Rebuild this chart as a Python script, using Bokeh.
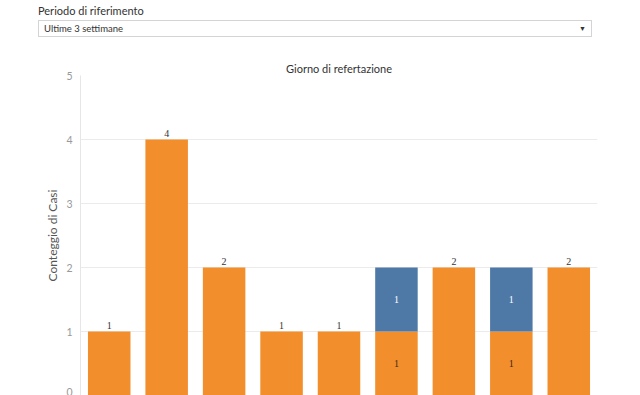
from bokeh.plotting import figure
from bokeh.models import Div, Range1d, ColumnDataSource, LabelSet
from bokeh.layouts import column
from bokeh.embed import file_html
from bokeh.resources import INLINE

# ---- data ----
giorni = ["G1", "G2", "G3", "G4", "G5", "G6", "G7", "G8", "G9"]
casi_arancio = [1, 4, 2, 1, 1, 1, 2, 1, 2]
casi_blu = [0, 0, 0, 0, 0, 1, 0, 1, 0]
y_ticks = [0, 1, 2, 3, 4, 5]

ORANGE = "#F28E2B"
BLUE = "#4E79A7"
FONT = "Lato"

# ---- dropdown header ----
header_html = f"""
<div style="position:relative;width:640px;height:58px;font-family:'{FONT}',sans-serif;">
  <div style="position:absolute;left:38px;top:4px;font-size:11px;line-height:14px;color:#333;white-space:nowrap;">Periodo di riferimento</div>
  <div style="position:absolute;left:38px;top:20px;width:554px;height:17px;box-sizing:border-box;border:1px solid #d4d4d4;background:#fff;">
    <span style="position:absolute;left:5px;top:1px;font-size:9.5px;line-height:13px;color:#333;white-space:nowrap;">Ultime 3 settimane</span>
    <span style="position:absolute;right:5px;top:2px;font-size:7px;line-height:10px;color:#333;">&#9660;</span>
  </div>
</div>
"""
header = Div(text=header_html, width=640, height=58, margin=(0, 0, 0, 0))

# ---- chart ----
src = ColumnDataSource(dict(
    giorno=giorni,
    arancio=casi_arancio,
    blu=casi_blu,
))

p = figure(
    x_range=giorni, y_range=Range1d(0, 5),
    width=640, height=337,
    output_backend="svg", toolbar_location=None,
    title="Giorno di refertazione",
    min_border_left=80, min_border_right=43, min_border_bottom=0, min_border_top=0,
    margin=(0, 0, 0, 0),
)
p.title.align = "center"
p.title.text_font = FONT
p.title.text_font_size = "11px"
p.title.text_font_style = "normal"
p.title.text_color = "#333333"
p.title.standoff = 2

p.vbar_stack(["arancio", "blu"], x="giorno", width=0.74, source=src,
             color=[ORANGE, BLUE], line_color=None)

# labels: single bars -> above the bar; stacked bars -> inside each segment
top_x, top_y, top_t = [], [], []
in_x, in_y, in_t, in_c = [], [], [], []
for g, a, b in zip(giorni, casi_arancio, casi_blu):
    if b == 0:
        top_x.append(g); top_y.append(a); top_t.append(str(a))
    else:
        in_x.append(g); in_y.append(a / 2); in_t.append(str(a)); in_c.append("#3a2a1a")
        in_x.append(g); in_y.append(a + b / 2); in_t.append(str(b)); in_c.append("#ffffff")

top_src = ColumnDataSource(dict(x=top_x, y=top_y, t=top_t))
in_src = ColumnDataSource(dict(x=in_x, y=in_y, t=in_t, c=in_c))

p.add_layout(LabelSet(x="x", y="y", text="t", source=top_src, y_offset=3,
                      text_align="center", text_baseline="bottom",
                      text_font=FONT, text_font_size="10px", text_color="#333333"))
p.add_layout(LabelSet(x="x", y="y", text="t", source=in_src,
                      text_align="center", text_baseline="middle",
                      text_font=FONT, text_font_size="10px", text_color="c"))

p.xaxis.visible = False
p.xgrid.grid_line_color = None
p.ygrid.grid_line_color = "#ebebeb"
p.ygrid.ticker = y_ticks
p.yaxis.ticker = y_ticks
p.yaxis.axis_label = "Conteggio di Casi"
p.yaxis.axis_label_text_font = FONT
p.yaxis.axis_label_text_font_size = "12px"
p.yaxis.axis_label_text_font_style = "normal"
p.yaxis.axis_label_text_color = "#555555"
p.yaxis.axis_label_standoff = 3
p.yaxis.major_label_text_font = FONT
p.yaxis.major_label_text_font_size = "10.5px"
p.yaxis.major_label_text_color = "#999999"
p.yaxis.major_label_standoff = 2
p.yaxis.axis_line_color = "#e6e6e6"
p.yaxis.major_tick_line_color = None
p.yaxis.minor_tick_line_color = None
p.outline_line_color = None
p.background_fill_color = "white"
p.border_fill_color = "white"

layout = column(header, p, spacing=0)
open("out.html", "w").write(file_html(layout, INLINE))
